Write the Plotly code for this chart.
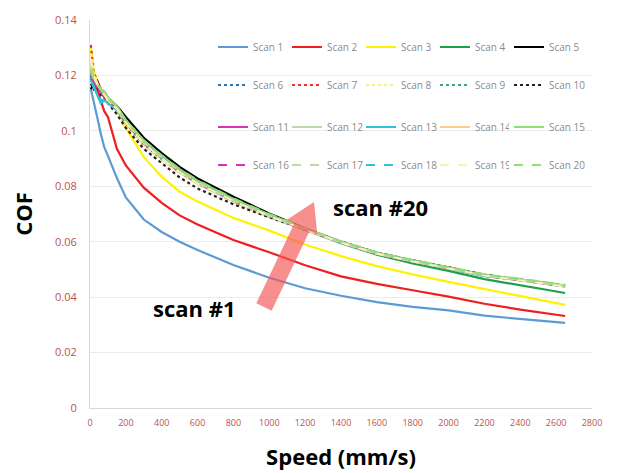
import plotly.graph_objects as go
import math

# ---------------- data ----------------
speed = [5, 20, 40, 60, 80, 100, 150, 200, 300, 400, 500, 600, 800, 1000,
         1200, 1400, 1600, 1800, 2000, 2200, 2400, 2650]

scan_names = [f"Scan {i}" for i in range(1, 21)]

scan1 = [0.115, 0.111, 0.105, 0.099, 0.094, 0.091, 0.083, 0.076, 0.068, 0.0635, 0.060, 0.057, 0.0516, 0.047, 0.0432, 0.0405, 0.0382, 0.0365, 0.0352, 0.0333, 0.0322, 0.0307]
scan2 = [0.119, 0.117, 0.115, 0.111, 0.107, 0.105, 0.0935, 0.0875, 0.0795, 0.074, 0.0695, 0.0662, 0.0606, 0.0562, 0.0515, 0.0475, 0.0448, 0.0425, 0.0402, 0.0376, 0.0355, 0.0332]
scan3 = [0.130, 0.122, 0.118, 0.115, 0.113, 0.111, 0.1075, 0.101, 0.0905, 0.0835, 0.078, 0.0745, 0.0686, 0.064, 0.059, 0.0548, 0.0512, 0.0482, 0.0455, 0.043, 0.0405, 0.0372]
scan4 = [0.120, 0.117, 0.118, 0.114, 0.112, 0.111, 0.1082, 0.1035, 0.0962, 0.0908, 0.0858, 0.0818, 0.0752, 0.0695, 0.0643, 0.0595, 0.0553, 0.0522, 0.0495, 0.0465, 0.0443, 0.0415]
scan5 = [0.115, 0.117, 0.118, 0.115, 0.114, 0.112, 0.109, 0.105, 0.0975, 0.092, 0.087, 0.0828, 0.0762, 0.0702, 0.0648, 0.0600, 0.0560, 0.0532, 0.0507, 0.0480, 0.0463, 0.0441]
scan6 = [0.119, 0.116, 0.117, 0.114, 0.113, 0.111, 0.108, 0.103, 0.0955, 0.090, 0.085, 0.081, 0.0745, 0.069, 0.0642, 0.0597, 0.0557, 0.0529, 0.0504, 0.0478, 0.0461, 0.0439]
scan7 = [0.131, 0.121, 0.118, 0.115, 0.113, 0.111, 0.1078, 0.1025, 0.095, 0.0898, 0.085, 0.081, 0.0746, 0.0692, 0.0644, 0.0598, 0.0558, 0.0531, 0.0506, 0.0479, 0.0462, 0.0440]
scan8 = [0.128, 0.121, 0.117, 0.114, 0.112, 0.110, 0.1075, 0.1022, 0.0948, 0.0895, 0.0848, 0.0808, 0.0744, 0.069, 0.0641, 0.0596, 0.0556, 0.0529, 0.0504, 0.0477, 0.046, 0.0438]
scan9 = [0.121, 0.117, 0.117, 0.114, 0.113, 0.112, 0.1085, 0.1035, 0.0962, 0.0908, 0.0858, 0.0818, 0.0752, 0.0697, 0.0646, 0.0599, 0.0559, 0.0531, 0.0506, 0.0479, 0.0463, 0.0441]
scan10 = [0.117, 0.115, 0.116, 0.113, 0.112, 0.110, 0.106, 0.101, 0.0935, 0.0882, 0.0832, 0.0792, 0.0735, 0.0688, 0.0645, 0.0600, 0.0561, 0.0533, 0.0508, 0.0481, 0.0464, 0.0442]
scan11 = [0.120, 0.118, 0.116, 0.114, 0.113, 0.111, 0.1082, 0.1032, 0.0958, 0.0903, 0.0853, 0.0813, 0.0749, 0.0694, 0.0644, 0.0597, 0.0557, 0.0529, 0.0504, 0.0477, 0.0461, 0.0439]
scan12 = [0.124, 0.119, 0.117, 0.115, 0.113, 0.112, 0.1088, 0.1037, 0.0963, 0.0907, 0.0857, 0.0817, 0.0751, 0.0696, 0.0646, 0.0599, 0.0559, 0.0531, 0.0506, 0.0479, 0.0463, 0.0441]
scan13 = [0.119, 0.116, 0.113, 0.110, 0.111, 0.110, 0.1075, 0.1028, 0.0955, 0.0902, 0.0852, 0.0812, 0.0748, 0.0694, 0.0644, 0.0597, 0.0557, 0.0529, 0.0504, 0.0477, 0.0461, 0.0439]
scan14 = [0.125, 0.120, 0.117, 0.115, 0.113, 0.111, 0.108, 0.103, 0.0957, 0.0902, 0.0852, 0.0812, 0.0748, 0.0693, 0.0644, 0.0597, 0.0557, 0.0529, 0.0504, 0.0478, 0.0461, 0.0439]
scan15 = [0.123, 0.119, 0.117, 0.115, 0.114, 0.112, 0.1088, 0.1038, 0.0965, 0.091, 0.086, 0.082, 0.0754, 0.0698, 0.0647, 0.0600, 0.0560, 0.0532, 0.0507, 0.0480, 0.0464, 0.0442]
scan16 = [0.120, 0.117, 0.116, 0.114, 0.112, 0.111, 0.108, 0.103, 0.0957, 0.0902, 0.0852, 0.0812, 0.0748, 0.0693, 0.0643, 0.0597, 0.0557, 0.0529, 0.0504, 0.0478, 0.0461, 0.0439]
scan17 = [0.123, 0.119, 0.117, 0.115, 0.113, 0.112, 0.1085, 0.1035, 0.096, 0.0905, 0.0855, 0.0815, 0.075, 0.0695, 0.0645, 0.0598, 0.0558, 0.053, 0.0505, 0.0478, 0.0462, 0.044]
scan18 = [0.118, 0.116, 0.114, 0.111, 0.111, 0.110, 0.1078, 0.103, 0.0957, 0.0903, 0.0853, 0.0813, 0.0749, 0.0694, 0.0644, 0.0597, 0.0557, 0.0529, 0.0504, 0.0477, 0.0461, 0.0439]
scan19 = [0.126, 0.120, 0.117, 0.115, 0.113, 0.111, 0.108, 0.103, 0.0955, 0.0901, 0.0851, 0.0811, 0.0747, 0.0693, 0.0644, 0.0597, 0.0557, 0.0529, 0.0504, 0.0478, 0.0461, 0.0439]
scan20 = [0.122, 0.118, 0.117, 0.115, 0.113, 0.112, 0.1088, 0.1038, 0.0965, 0.0912, 0.0862, 0.0822, 0.0756, 0.0700, 0.0649, 0.0602, 0.0562, 0.0534, 0.0509, 0.0482, 0.0466, 0.0444]

scans = [scan1, scan2, scan3, scan4, scan5, scan6, scan7, scan8, scan9, scan10,
         scan11, scan12, scan13, scan14, scan15, scan16, scan17, scan18, scan19, scan20]

x_ticks = list(range(0, 2801, 200))
y_ticks = [0, 0.02, 0.04, 0.06, 0.08, 0.1, 0.12, 0.14]

# ---------------- styles ----------------
colors = ["#5B9BD5", "#F01E1E", "#FFF200", "#1FA04A", "#000000",
          "#2E75B6", "#F03030", "#F5F080", "#3AAA8A", "#222222",
          "#D633B8", "#BFD8A8", "#2FC0DA", "#FFCC88", "#8FE070",
          "#D633B8", "#BFD8A8", "#2FC0DA", "#FFF0B0", "#8FE070"]
dashes = ["solid"] * 5 + ["dot"] * 5 + ["solid"] * 5 + ["dash"] * 5

W, H = 617, 473
OFF = 8  # default page body margin
# desired plot area on screen: x 90..592, y 20..408
L, T = 90 - OFF, 20 - OFF
R = (W + OFF) - 592
B = (H + OFF) - 408
PW, PH = W - L - R, H - T - B


def px_x(sx):  # screen px -> paper
    return (sx - OFF - L) / PW


def px_y(sy):
    return (H - B - (sy - OFF)) / PH


def legend_id(i):
    row, col = divmod(i, 5)
    n = row * 2 + (1 if col < 4 else 2)
    return "legend" if n == 1 else f"legend{n}"


fig = go.Figure()
for i, (name, vals) in enumerate(zip(scan_names, scans)):
    fig.add_trace(go.Scatter(
        x=speed, y=vals, mode="lines", name=name,
        line=dict(color=colors[i], width=2.2, dash=dashes[i]),
        legend=legend_id(i),
    ))

leg_rows_px = [47, 85, 127, 165]
leg_font = dict(family="Open Sans", size=10, color="#8C8C8C")
layout_legs = {}
for k in range(4):
    a = "legend" if k == 0 else f"legend{2 * k + 1}"
    b = f"legend{2 * k + 2}"
    layout_legs[a] = dict(orientation="h", entrywidth=29, entrywidthmode="pixels",
                          itemwidth=30, font=leg_font, bgcolor="rgba(0,0,0,0)",
                          xanchor="left", yanchor="middle", x=px_x(213),
                          y=px_y(leg_rows_px[k]), traceorder="normal")
    layout_legs[b] = dict(orientation="h", itemwidth=30, font=leg_font,
                          bgcolor="rgba(0,0,0,0)", xanchor="left", yanchor="middle",
                          x=px_x(213 + 4 * 74), y=px_y(leg_rows_px[k]))

# arrow polygon (decoration) in screen px -> paper
tx, ty = 264, 307
hx, hy = 314, 202
dl = math.hypot(hx - tx, hy - ty)
dx, dy = (hx - tx) / dl, (hy - ty) / dl
nx, ny = -dy, dx
sw, hw, hl = 8.5, 17, 28
bx, by = hx - hl * dx, hy - hl * dy
pts = [(tx + sw * nx, ty + sw * ny), (bx + sw * nx, by + sw * ny), (bx + hw * nx, by + hw * ny),
       (hx, hy), (bx - hw * nx, by - hw * ny), (bx - sw * nx, by - sw * ny), (tx - sw * nx, ty - sw * ny)]
path = "M " + " L ".join(f"{px_x(a):.4f},{px_y(b):.4f}" for a, b in pts) + " Z"

fig.update_layout(
    width=W, height=H,
    margin=dict(l=L, r=R, t=T, b=B, autoexpand=False),
    paper_bgcolor="white", plot_bgcolor="white",
    showlegend=True,
    **layout_legs,
    xaxis=dict(range=[0, 2800], tickvals=x_ticks, showgrid=False, zeroline=False,
               showline=True, linecolor="#D9D9D9", linewidth=1, ticks="",
               automargin=False,
               tickfont=dict(family="Open Sans", size=9, color="#C0504D"),
               ticklabelstandoff=6,
               title=dict(text="<b>Speed (mm/s)</b>", standoff=21,
                          font=dict(family="Open Sans", size=22, color="#000000"))),
    yaxis=dict(range=[0, 0.14], tickvals=y_ticks, showgrid=True, gridcolor="#EBEBEB",
               gridwidth=1, zeroline=False, showline=True, linecolor="#D9D9D9",
               linewidth=1, ticks="", automargin=False,
               tickfont=dict(family="Open Sans", size=11, color="#C0504D"),
               ticklabelstandoff=10,
               title=dict(text="<b>COF</b>", standoff=16,
                          font=dict(family="Open Sans", size=22, color="#000000"))),
    shapes=[dict(type="path", xref="paper", yref="paper", path=path,
                 fillcolor="rgba(245,85,85,0.66)", line=dict(width=0), layer="above")],
    annotations=[
        dict(text="<b>scan #1</b>", x=px_x(194), y=px_y(308), xref="paper", yref="paper",
             xanchor="center", yanchor="middle", showarrow=False,
             font=dict(family="Open Sans", size=22, color="#000000")),
        dict(text="<b>scan #20</b>", x=px_x(380), y=px_y(207), xref="paper", yref="paper",
             xanchor="center", yanchor="middle", showarrow=False,
             font=dict(family="Open Sans", size=22, color="#000000")),
    ],
)

fig.write_html("out.html")
